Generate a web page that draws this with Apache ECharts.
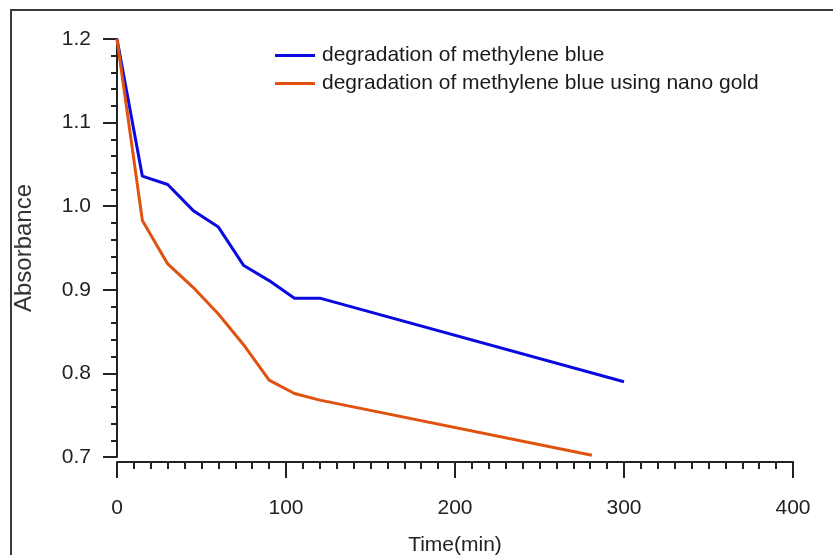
<!DOCTYPE html>
<html>
<head>
<meta charset="utf-8">
<title>Absorbance vs time</title>
<script src="https://cdn.jsdelivr.net/npm/echarts@6/dist/echarts.min.js"></script>
<style>
  html, body { margin: 0; padding: 0; background: #fff; }
  #chart { width: 833px; height: 555px; }
</style>
</head>
<body>
<div id="chart"></div>
<script>
// values
const blueTime = [0, 15, 30, 45, 60, 75, 90, 105, 120, 300]
const blueAbs = [1.2, 1.036, 1.026, 0.995, 0.975, 0.929, 0.911, 0.89, 0.89, 0.79]
const goldTime = [0, 15, 30, 45, 60, 75, 90, 105, 120, 281]
const goldAbs = [1.2, 0.983, 0.931, 0.903, 0.871, 0.834, 0.792, 0.776, 0.768, 0.702]
const seriesNames = ["degradation of methylene blue", "degradation of methylene blue using nano gold"]

const font = "'Liberation Sans Narrow', 'Arial Narrow', 'Liberation Sans', Arial, sans-serif"

const chart = echarts.init(document.getElementById("chart"))

chart.setOption({
  animation: false,
  graphic: [
    {
      type: "rect",
      shape: { x: 11, y: 10, width: 1000, height: 1000 },
      style: { fill: "none", stroke: "#3a3a3a", lineWidth: 2 },
      silent: true,
    },
  ],
  legend: {
    orient: "vertical",
    left: 270,
    top: 40,
    itemGap: 7,
    itemWidth: 40,
    itemHeight: 3,
    icon: "rect",
    data: seriesNames,
    textStyle: { fontFamily: font, fontSize: 21, color: "#1a1a1a", padding: [0, 0, 0, 2] },
  },
  grid: {
    left: 117,
    right: 40,
    top: 39,
    bottom: 98,
    outerBoundsMode: "none",
  },
  xAxis: {
    type: "value",
    min: 0,
    max: 400,
    interval: 100,
    offset: 5,
    name: "Time(min)",
    nameLocation: "middle",
    nameGap: 73,
    nameTextStyle: { fontFamily: font, fontSize: 21, color: "#222" },
    axisLine: { lineStyle: { color: "#222", width: 2 } },
    axisTick: { inside: false, length: 16, lineStyle: { color: "#222", width: 2 } },
    minorTick: { show: true, splitNumber: 10, length: 7, lineStyle: { color: "#222", width: 2 } },
    axisLabel: { fontFamily: font, fontSize: 21, color: "#222", margin: 36 },
    splitLine: { show: false },
  },
  yAxis: {
    type: "value",
    min: 0.7,
    max: 1.2,
    interval: 0.1,
    offset: 3,
    name: "Absorbance",
    nameLocation: "middle",
    nameGap: 78,
    nameTextStyle: { fontFamily: font, fontSize: 24, color: "#333" },
    axisLine: { show: true, lineStyle: { color: "#222", width: 2 } },
    axisTick: { show: true, inside: false, length: 14, lineStyle: { color: "#222", width: 2 } },
    minorTick: { show: true, splitNumber: 5, length: 6, lineStyle: { color: "#222", width: 2 } },
    axisLabel: {
      fontFamily: font,
      fontSize: 21,
      color: "#222",
      margin: 23,
      formatter: (v) => v.toFixed(1),
    },
    splitLine: { show: false },
  },
  series: [
    {
      name: seriesNames[0],
      type: "line",
      showSymbol: false,
      lineStyle: { color: "#0a0ae0", width: 3 },
      itemStyle: { color: "#0a0ae0" },
      data: blueTime.map((t, i) => [t, blueAbs[i]]),
    },
    {
      name: seriesNames[1],
      type: "line",
      showSymbol: false,
      lineStyle: { color: "#e0520f", width: 3 },
      itemStyle: { color: "#e0520f" },
      data: goldTime.map((t, i) => [t, goldAbs[i]]),
    },
  ],
})
</script>
</body>
</html>
